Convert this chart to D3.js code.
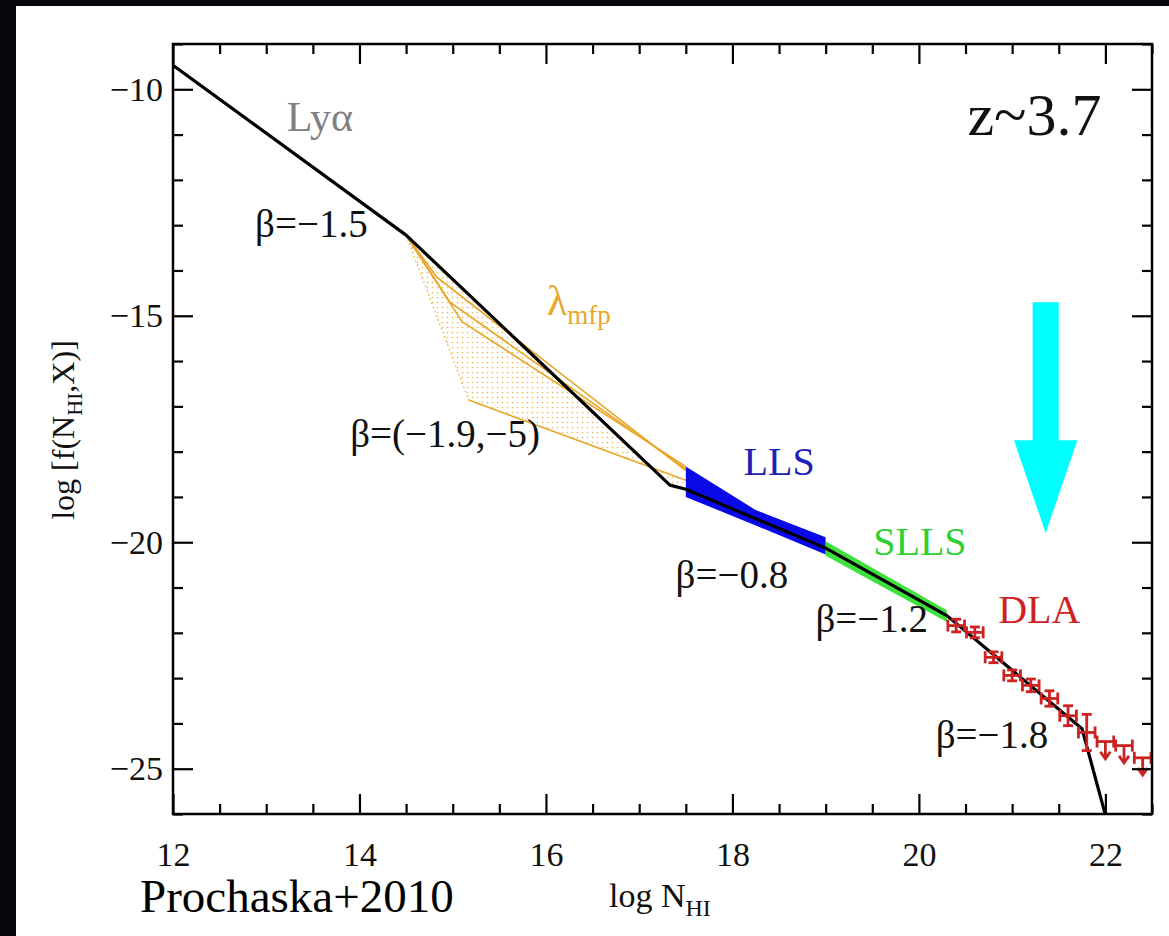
<!DOCTYPE html>
<html>
<head>
<meta charset="utf-8">
<script src="https://cdn.jsdelivr.net/npm/d3@7"></script>
<style>
  body { margin: 0; background: #07080d; }
  svg { display: block; }
  svg text { font-family: "Liberation Serif", "Times New Roman", "DejaVu Serif", serif !important; }
</style>
</head>
<body>
<svg id="chart" width="1169" height="936"></svg>
<script>
// axis setup
const X_DOMAIN = [12, 22.5];
const Y_DOMAIN = [-26, -9];
const X_MAJOR = [12, 14, 16, 18, 20, 22];
const Y_MAJOR = [-10, -15, -20, -25];

// black broken power-law fit
const fitLogN = [12, 14.5, 17.33, 17.5, 19.0, 20.3, 21.75, 22.05];
const fitLogF = [-9.47, -13.22, -18.74, -18.83, -20.13, -21.62, -24.12, -26.4];

// lambda_mfp family (orange)
const mfpStartN = 14.5, mfpStartF = -13.22, mfpEndN = 17.5;
const mfpPivotN = [14.83, 14.97, 15.1];
const mfpPivotF = [-14.15, -14.7, -15.13];
const mfpEndF = [-18.42, -18.38, -18.33];
const mfpLowN = [14.5, 15.17, 17.5];
const mfpLowF = [-13.22, -16.86, -18.63];

// LLS band (blue)
const llsN = [17.5, 18.25, 19.0];
const llsUpper = [-18.33, -19.29, -19.89];
const llsLower = [-19.0, -19.63, -20.27];

// SLLS band (green)
const sllsN = [19.0, 20.3];
const sllsUpper = [-19.98, -21.5];
const sllsLower = [-20.3, -21.76];

// DLA measurements (red), 0.2 dex bins
const dlaBinLo = [20.3, 20.5, 20.7, 20.9, 21.1, 21.3, 21.5, 21.7, 21.9, 22.1, 22.3];
const dlaBinHi = [20.5, 20.7, 20.9, 21.1, 21.3, 21.5, 21.7, 21.9, 22.1, 22.3, 22.5];
const dlaLogF = [-21.84, -21.99, -22.54, -22.94, -23.16, -23.45, -23.83, -24.2, -24.4, -24.49, -24.76];
const dlaErr = [0.14, 0.12, 0.12, 0.12, 0.14, 0.17, 0.22, 0.4, 0.15, 0, 0];
const dlaUpperLimit = [false, false, false, false, false, false, false, false, true, true, true];

// labels
const labelText = ['Lyα', 'β=−1.5', 'β=(−1.9,−5)', 'LLS', 'β=−0.8', 'SLLS', 'β=−1.2', 'DLA', 'β=−1.8', 'z~3.7'];
const labelN = [13.22, 12.88, 13.9, 18.12, 17.39, 19.51, 18.89, 20.85, 20.18, 20.52];
const labelF = [-10.93, -13.27, -17.9, -18.52, -21.0, -20.29, -21.99, -21.79, -24.54, -11.02];
const labelColor = ['#808080', '#111', '#111', '#2020b8', '#111', '#30d030', '#111', '#cc2222', '#111', '#111'];
const labelSize = [42, 39, 39, 40, 39, 40, 39, 40, 39, 60];

const ORANGE = '#e8a72a';

const svg = d3.select('#chart');
const W = +svg.attr('width'), H = +svg.attr('height');
const M = { left: 173, right: 1152, top: 44, bottom: 814 };

// dark backdrop + white panel
svg.append('rect').attr('width', W).attr('height', H).attr('fill', '#07080d');
svg.append('rect').attr('x', 16).attr('y', 6).attr('width', W - 16).attr('height', H - 6).attr('fill', '#fff');

const x = d3.scaleLinear().domain(X_DOMAIN).range([M.left, M.right]);
const y = d3.scaleLinear().domain(Y_DOMAIN).range([M.bottom, M.top]);
const line = d3.line().x(d => x(d[0])).y(d => y(d[1]));

const defs = svg.append('defs');
defs.append('clipPath').attr('id', 'plot-clip')
  .append('rect').attr('x', M.left).attr('y', M.top)
  .attr('width', M.right - M.left).attr('height', M.bottom - M.top);
const pat = defs.append('pattern').attr('id', 'dots').attr('patternUnits', 'userSpaceOnUse')
  .attr('width', 5).attr('height', 5);
pat.append('circle').attr('cx', 2.5).attr('cy', 2.5).attr('r', 0.85).attr('fill', ORANGE).attr('opacity', 0.8);

const plot = svg.append('g').attr('clip-path', 'url(#plot-clip)');

// dotted envelope of allowed mfp solutions
const fitPts = fitLogN.map((n, i) => [n, fitLogF[i]]);
const upperEnv = fitPts.filter(d => d[0] >= 14.5 && d[0] <= 17.5);
const lowerEnv = mfpLowN.map((n, i) => [n, mfpLowF[i]]);
plot.append('path')
  .attr('d', line(upperEnv.concat(lowerEnv.slice().reverse())) + 'Z')
  .attr('fill', 'url(#dots)');
plot.append('path').attr('d', line(lowerEnv.slice(0, 2)))
  .attr('fill', 'none').attr('stroke', ORANGE).attr('stroke-width', 1.2).attr('stroke-dasharray', '1.5,3');

// solid mfp curves
mfpPivotN.forEach((n, i) => {
  plot.append('path')
    .attr('d', line([[mfpStartN, mfpStartF], [n, mfpPivotF[i]], [mfpEndN, mfpEndF[i]]]))
    .attr('fill', 'none').attr('stroke', ORANGE).attr('stroke-width', 1.7);
});
plot.append('path').attr('d', line(lowerEnv.slice(1)))
  .attr('fill', 'none').attr('stroke', ORANGE).attr('stroke-width', 1.7);

// LLS band
const band = d3.area().x(d => x(d[0])).y0(d => y(d[1])).y1(d => y(d[2]));
plot.append('path')
  .attr('d', band(llsN.map((n, i) => [n, llsLower[i], llsUpper[i]])))
  .attr('fill', '#0a0ae8');

// SLLS band
plot.append('path')
  .attr('d', band(sllsN.map((n, i) => [n, sllsLower[i], sllsUpper[i]])))
  .attr('fill', '#3ee03e');

// fit line
plot.append('path').attr('d', line(fitPts))
  .attr('fill', 'none').attr('stroke', '#000').attr('stroke-width', 3.2).attr('stroke-linejoin', 'round');

// DLA points
const RED = '#cc2222';
const dla = plot.append('g').attr('stroke', RED).attr('stroke-width', 2.8).attr('fill', 'none');
dlaLogF.forEach((f, i) => {
  const x0 = x(dlaBinLo[i]) + 1, x1 = x(dlaBinHi[i]) - 1;
  const xc = x((dlaBinLo[i] + dlaBinHi[i]) / 2), yc = y(f);
  dla.append('line').attr('x1', x0).attr('x2', x1).attr('y1', yc).attr('y2', yc);
  dla.append('line').attr('x1', x0).attr('x2', x0).attr('y1', yc - 6).attr('y2', yc + 6);
  dla.append('line').attr('x1', x1).attr('x2', x1).attr('y1', yc - 6).attr('y2', yc + 6);
  if (dlaUpperLimit[i]) {
    const yb = y(f - 0.38);
    dla.append('line').attr('x1', xc).attr('x2', xc).attr('y1', yc).attr('y2', yb);
    dla.append('path').attr('d', `M${xc - 5},${yb - 7}L${xc},${yb}L${xc + 5},${yb - 7}`);
  } else {
    const ya = y(f + dlaErr[i]), yb = y(f - dlaErr[i]);
    dla.append('line').attr('x1', xc).attr('x2', xc).attr('y1', ya).attr('y2', yb);
    dla.append('line').attr('x1', xc - 5).attr('x2', xc + 5).attr('y1', ya).attr('y2', ya);
    dla.append('line').attr('x1', xc - 5).attr('x2', xc + 5).attr('y1', yb).attr('y2', yb);
  }
});

// cyan arrow
const AR = { n: 21.36, top: -14.7, neck: -17.75, tip: -19.8, shaft: 0.14, head: 0.34 };
svg.append('path')
  .attr('d', line([
    [AR.n - AR.shaft, AR.top], [AR.n + AR.shaft, AR.top], [AR.n + AR.shaft, AR.neck],
    [AR.n + AR.head, AR.neck], [AR.n, AR.tip], [AR.n - AR.head, AR.neck], [AR.n - AR.shaft, AR.neck]
  ]) + 'Z')
  .attr('fill', '#00ffff');

// axes: inward ticks on all four sides
const xMinor = d3.range(12, 22.51, 0.5).filter(v => !X_MAJOR.includes(v));
const yMinor = d3.range(-26, -8.99, 1).filter(v => !Y_MAJOR.includes(v));
function styleAxis(g) {
  g.attr('font-family', null);
  g.select('.domain').remove();
  g.selectAll('line').attr('stroke', '#000').attr('stroke-width', 2.2);
  g.selectAll('text').attr('font-size', 34).attr('fill', '#111');
}
svg.append('g').attr('transform', `translate(0,${M.bottom})`)
  .call(d3.axisBottom(x).tickValues(X_MAJOR).tickSize(-20).tickPadding(28).tickFormat(d3.format('d')))
  .call(styleAxis);
svg.append('g').attr('transform', `translate(0,${M.bottom})`)
  .call(d3.axisBottom(x).tickValues(xMinor).tickSize(-10).tickFormat('')).call(styleAxis);
svg.append('g').attr('transform', `translate(0,${M.top})`)
  .call(d3.axisTop(x).tickValues(X_MAJOR).tickSize(-20).tickFormat('')).call(styleAxis);
svg.append('g').attr('transform', `translate(0,${M.top})`)
  .call(d3.axisTop(x).tickValues(xMinor).tickSize(-10).tickFormat('')).call(styleAxis);
svg.append('g').attr('transform', `translate(${M.left},0)`)
  .call(d3.axisLeft(y).tickValues(Y_MAJOR).tickSize(-20).tickPadding(10).tickFormat(d3.format('d')))
  .call(styleAxis);
svg.append('g').attr('transform', `translate(${M.left},0)`)
  .call(d3.axisLeft(y).tickValues(yMinor).tickSize(-10).tickFormat('')).call(styleAxis);
svg.append('g').attr('transform', `translate(${M.right},0)`)
  .call(d3.axisRight(y).tickValues(Y_MAJOR).tickSize(-20).tickFormat('')).call(styleAxis);
svg.append('g').attr('transform', `translate(${M.right},0)`)
  .call(d3.axisRight(y).tickValues(yMinor).tickSize(-10).tickFormat('')).call(styleAxis);

svg.append('rect').attr('x', M.left).attr('y', M.top)
  .attr('width', M.right - M.left).attr('height', M.bottom - M.top)
  .attr('fill', 'none').attr('stroke', '#000').attr('stroke-width', 2.5);

// annotations
labelText.forEach((t, i) => {
  svg.append('text').attr('x', x(labelN[i])).attr('y', y(labelF[i]))
    .attr('font-size', labelSize[i]).attr('fill', labelColor[i]).text(t);
});
const lam = svg.append('text').attr('x', x(16.01)).attr('y', y(-14.98))
  .attr('font-size', 42).attr('fill', ORANGE);
lam.append('tspan').text('λ');
lam.append('tspan').attr('dy', 9).attr('font-size', 27).text('mfp');

// axis titles
const xt = svg.append('text').attr('x', 609).attr('y', 907).attr('font-size', 34).attr('fill', '#111');
xt.append('tspan').text('log N');
xt.append('tspan').attr('dy', 9).attr('font-size', 24).text('HI');

const yt = svg.append('text').attr('transform', 'translate(74,430) rotate(-90)')
  .attr('text-anchor', 'middle').attr('font-size', 32).attr('fill', '#111');
yt.append('tspan').text('log [f(N');
yt.append('tspan').attr('dy', 8).attr('font-size', 22).text('HI');
yt.append('tspan').attr('dy', -8).text(',X)]');

svg.append('text').attr('x', 140).attr('y', 912).attr('font-size', 47).attr('fill', '#000').text('Prochaska+2010');
</script>
</body>
</html>
